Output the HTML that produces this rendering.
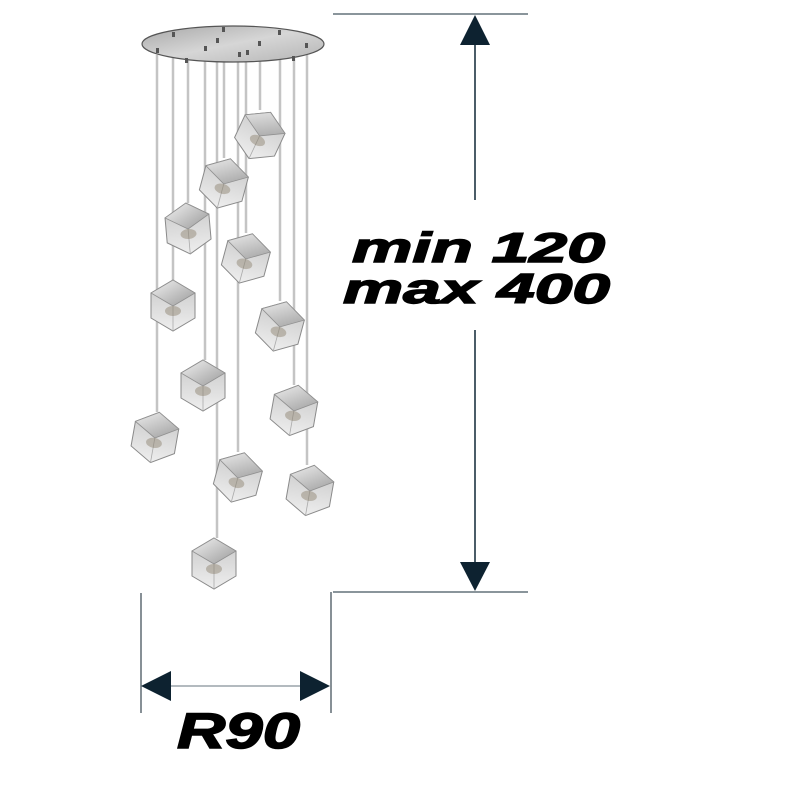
<!DOCTYPE html>
<html><head><meta charset="utf-8"><style>
html,body{margin:0;padding:0;background:#fff;width:800px;height:800px;overflow:hidden}
</style></head><body>
<svg width="800" height="800" viewBox="0 0 800 800" xmlns="http://www.w3.org/2000/svg">
<defs>
<linearGradient id="plate" x1="0" y1="0" x2="1" y2="1">
<stop offset="0" stop-color="#a8a8a8"/><stop offset="0.5" stop-color="#d6d6d6"/><stop offset="1" stop-color="#b4b4b4"/></linearGradient>
<linearGradient id="top" x1="0" y1="0" x2="1" y2="1">
<stop offset="0" stop-color="#f2f2f2"/><stop offset="0.6" stop-color="#bdbdbd"/><stop offset="1" stop-color="#9a9a9a"/></linearGradient>
<linearGradient id="side" x1="0" y1="0" x2="0" y2="1">
<stop offset="0" stop-color="#c8c8c8"/><stop offset="1" stop-color="#eeeeee"/></linearGradient>
<g id="cube">
<polygon points="0,-25 22,-12 22,13 0,26 -22,13 -22,-12" fill="url(#side)" stroke="#8a8a8a" stroke-width="1"/>
<polygon points="0,-25 22,-12 0,1 -22,-12" fill="url(#top)" stroke="#909090" stroke-width="0.8"/>
<line x1="0" y1="1" x2="0" y2="26" stroke="#aaa" stroke-width="0.8"/>
<ellipse cx="0" cy="6" rx="8" ry="5" fill="#8a7f6a" opacity="0.45"/>
</g>
</defs>

<g stroke="#c4c4c4" stroke-width="2.5">
<line x1="260" y1="50" x2="260" y2="110"/>
<line x1="224" y1="55" x2="224" y2="158"/>
<line x1="188" y1="55" x2="188" y2="203"/>
<line x1="246" y1="55" x2="246" y2="233"/>
<line x1="173" y1="55" x2="173" y2="280"/>
<line x1="280" y1="55" x2="280" y2="301"/>
<line x1="205" y1="55" x2="205" y2="360"/>
<line x1="294" y1="55" x2="294" y2="385"/>
<line x1="157" y1="55" x2="157" y2="412"/>
<line x1="238" y1="55" x2="238" y2="452"/>
<line x1="307" y1="55" x2="307" y2="465"/>
<line x1="217" y1="55" x2="217" y2="538"/>
</g>

<ellipse cx="233" cy="44" rx="91" ry="18" fill="url(#plate)" stroke="#555" stroke-width="1.2"/>
<g fill="#555">
<rect x="156" y="48" width="3" height="5"/><rect x="172" y="32" width="3" height="5"/><rect x="185" y="58" width="3" height="5"/>
<rect x="204" y="46" width="3" height="5"/><rect x="216" y="38" width="3" height="5"/><rect x="222" y="27" width="3" height="5"/>
<rect x="238" y="52" width="3" height="5"/><rect x="246" y="50" width="3" height="5"/><rect x="258" y="41" width="3" height="5"/>
<rect x="278" y="30" width="3" height="5"/><rect x="292" y="56" width="3" height="5"/><rect x="305" y="43" width="3" height="5"/>
</g>

<use href="#cube" transform="translate(260,135) rotate(25)"/>
<use href="#cube" transform="translate(224,183) rotate(15)"/>
<use href="#cube" transform="translate(188,228) rotate(-5)"/>
<use href="#cube" transform="translate(246,258) rotate(15)"/>
<use href="#cube" transform="translate(173,305) rotate(0)"/>
<use href="#cube" transform="translate(280,326) rotate(15)"/>
<use href="#cube" transform="translate(203,385) rotate(0)"/>
<use href="#cube" transform="translate(294,410) rotate(10)"/>
<use href="#cube" transform="translate(155,437) rotate(10)"/>
<use href="#cube" transform="translate(238,477) rotate(15)"/>
<use href="#cube" transform="translate(310,490) rotate(10)"/>
<use href="#cube" transform="translate(214,563) rotate(0)"/>

<g stroke="#8a959b" stroke-width="2">
<line x1="333" y1="14" x2="528" y2="14"/>
<line x1="333" y1="592" x2="528" y2="592"/>
</g>
<g stroke="#1e3442" stroke-width="1.6">
<line x1="475" y1="40" x2="475" y2="200"/>
<line x1="475" y1="330" x2="475" y2="565"/>
</g>
<polygon points="475,15 460,45 490,45" fill="#0d2230"/>
<polygon points="475,591 460,562 490,562" fill="#0d2230"/>
<g font-family="Liberation Sans, sans-serif" font-weight="bold" font-style="italic" font-size="42" fill="#000" stroke="#000" stroke-width="1.4">
<text x="352" y="262" textLength="253" lengthAdjust="spacingAndGlyphs">min 120</text>
<text x="343" y="303" textLength="267" lengthAdjust="spacingAndGlyphs">max 400</text>
</g>

<g stroke="#5f6b72" stroke-width="1.5">
<line x1="141" y1="593" x2="141" y2="713"/>
<line x1="331" y1="592" x2="331" y2="713"/>
</g>
<line x1="165" y1="686" x2="305" y2="686" stroke="#9aa4aa" stroke-width="1.5"/>
<polygon points="141,686 171,671 171,701" fill="#0d2230"/>
<polygon points="330,686 300,671 300,701" fill="#0d2230"/>
<text x="177" y="748" textLength="123" lengthAdjust="spacingAndGlyphs" font-family="Liberation Sans, sans-serif" font-weight="bold" font-style="italic" font-size="50" fill="#000" stroke="#000" stroke-width="1.5">R90</text>
</svg>
</body></html>
